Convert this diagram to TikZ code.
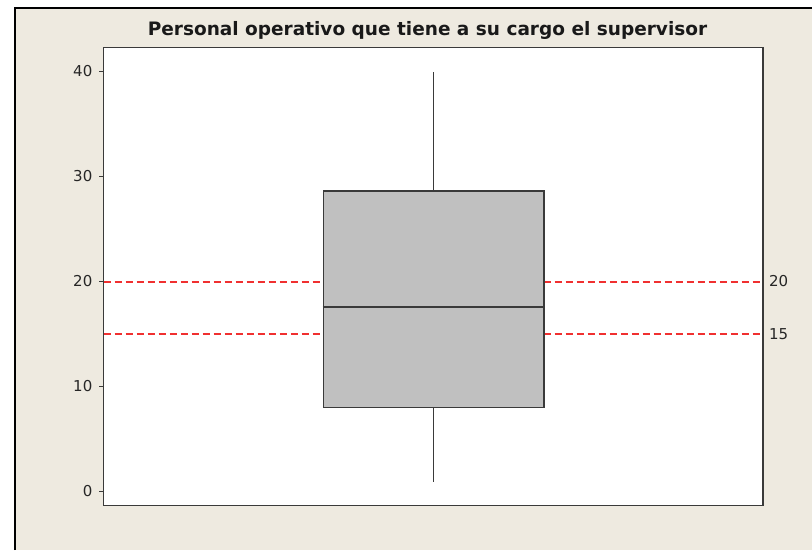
\documentclass[tikz,border=0pt]{standalone}
\usepackage{fontspec}
\setmainfont{DejaVu Sans}
\definecolor{bgbeige}{HTML}{EEEAE0}
\definecolor{framegray}{HTML}{3A3A3A}
\definecolor{boxgray}{HTML}{C0C0C0}
\definecolor{refred}{HTML}{F03030}
\begin{document}
\begin{tikzpicture}[x=1pt,y=-1pt,
  ticklab/.style={anchor=east,inner sep=0pt,font=\fontsize{15}{16}\selectfont,text=black!85},
  reflab/.style={anchor=west,inner sep=0pt,font=\fontsize{15}{16}\selectfont,text=black!85},
  refline/.style={draw=refred,line width=1.1pt,dash pattern=on 7pt off 4pt},
  boxnode/.style={draw=framegray,fill=boxgray,line width=1.5pt,minimum width=220.5pt,minimum height=216.5pt,inner sep=0pt},
  whisk/.style={draw=framegray,line width=1.3pt},
  axtick/.style={draw=framegray,line width=1.2pt}]
\useasboundingbox (0,0) rectangle (812,550);
\fill[white] (0,0) rectangle (812,550);
\fill[bgbeige] (16,8) rectangle (812,550);
\draw[black,line width=2pt] (15,550) -- (15,8) -- (812,8);
% title
\node[font=\bfseries\fontsize{18.5}{20}\selectfont,text=black!90] (title) at (427.5,30) {Personal operativo que tiene a su cargo el supervisor};
% plot area
\fill[white] (103.5,47.5) rectangle (763,505.5);
% reference lines
\coordinate (r20a) at (103.5,282);
\coordinate (r20b) at (763,282);
\coordinate (r15a) at (103.5,334);
\coordinate (r15b) at (763,334);
\draw[refline] (r15a) -- (r15b);
\draw[refline] (r20a) -- (r20b);
\node[reflab] (l20) at (769,281.5) {20};
\node[reflab] (l15) at (769,334) {15};
% box
\node[boxnode] (box) at (433.5,299.4) {};
\coordinate (med) at (433.5,307);
\draw[draw=framegray,line width=1.5pt] (box.west |- med) -- (box.east |- med);
\coordinate (wtop) at (433.5,71.5);
\coordinate (wbot) at (433.5,481.5);
\draw[whisk] (box.north) -- (wtop);
\draw[whisk] (box.south) -- (wbot);
% axis frame
\draw[framegray,line width=1.6pt] (103.5,47.5) rectangle (763,505.5);
% ticks
\foreach \v/\yy in {0/491.5,10/386.5,20/281.5,30/176.5,40/71.5}{
  \draw[axtick] (99,\yy) -- (103.5,\yy);
  \node[ticklab] (t\v) at (92.5,\yy) {\v};
}
\end{tikzpicture}
\end{document}
